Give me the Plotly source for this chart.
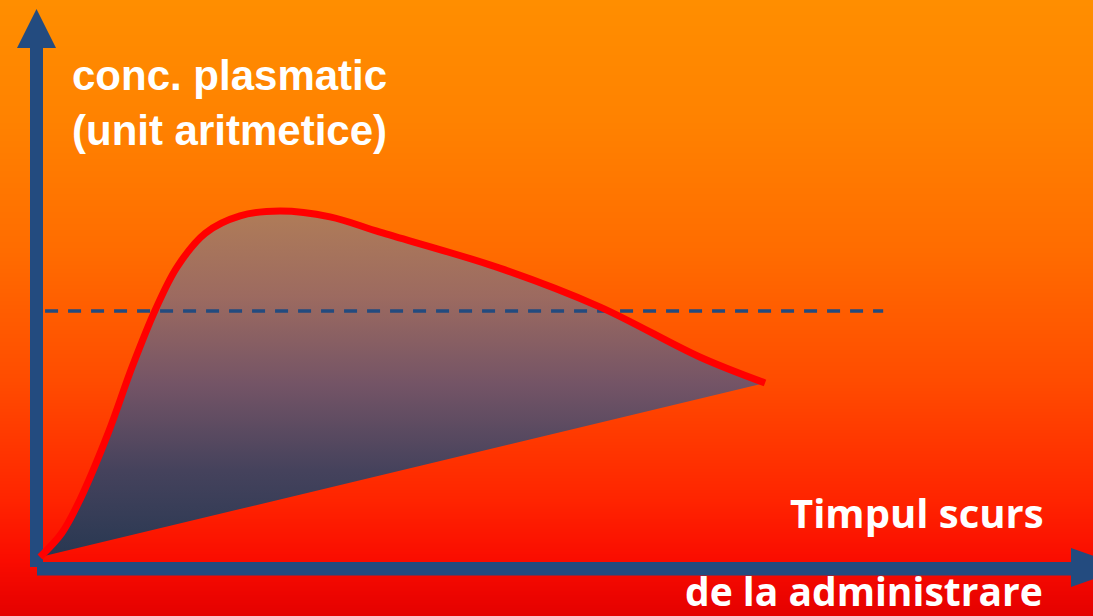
import base64
import struct
import zlib

import plotly.graph_objects as go

# --- data -------------------------------------------------------------
# time after administration (arbitrary units) and plasma concentration
time_vals = [0, 0.3, 0.55, 0.94, 1.27, 1.59, 1.89, 2.28, 2.76, 3.31, 4.0,
             4.69, 6.34, 7.72, 9.1, 10.0]
conc_vals = [0, 0.69, 1.65, 3.58, 5.49, 7.14, 8.38, 9.36, 9.86, 10.0, 9.83,
             9.39, 8.35, 7.23, 5.78, 5.03]
# minimum effective concentration (dashed reference line)
threshold_time = [0.07, 11.63]
threshold_conc = [7.11, 7.11]

y_title = "conc. plasmatic<br>(unit aritmetice)"
x_title_1 = "Timpul scurs"
x_title_2 = "de la administrare"

# --- page geometry ----------------------------------------------------
W, H = 1093, 616
X_RANGE = [-0.5517, 14.524]
Y_RANGE = [-1.705, 16.098]

AXIS_BLUE = "#234B7F"


def px(x):
    return x / W


def py(y):
    return 1 - y / H


# --- vertical orange -> red backdrop as a tiny PNG stretched over the page
bg_stops = [(0, (255, 142, 0)), (120, (255, 130, 0)), (250, (255, 108, 0)),
            (380, (255, 76, 0)), (500, (255, 36, 0)), (560, (250, 12, 0)),
            (616, (228, 0, 0))]


def lerp_color(y):
    for (y0, c0), (y1, c1) in zip(bg_stops, bg_stops[1:]):
        if y0 <= y <= y1:
            t = (y - y0) / (y1 - y0)
            return tuple(round(a + (b - a) * t) for a, b in zip(c0, c1))
    return bg_stops[-1][1]


def gradient_png(height, width=4):
    raw = b"".join(b"\x00" + bytes(lerp_color(y)) * width for y in range(height))

    def chunk(tag, data):
        return (struct.pack(">I", len(data)) + tag + data
                + struct.pack(">I", zlib.crc32(tag + data) & 0xFFFFFFFF))

    ihdr = struct.pack(">IIBBBBB", width, height, 8, 2, 0, 0, 0)
    png = (b"\x89PNG\r\n\x1a\n" + chunk(b"IHDR", ihdr)
           + chunk(b"IDAT", zlib.compress(raw)) + chunk(b"IEND", b""))
    return "data:image/png;base64," + base64.b64encode(png).decode()


CURVE_SHAPE = dict(shape="spline", smoothing=1.0)

fig = go.Figure()

# area under the curve, closed back to the origin
fig.add_trace(go.Scatter(
    x=time_vals, y=conc_vals, mode="lines",
    line=dict(width=0, **CURVE_SHAPE),
    fill="toself",
    fillgradient=dict(
        type="vertical",
        start=0, stop=10,
        colorscale=[[0, "#283852"], [0.25, "#45425C"], [0.5, "#745466"],
                    [0.75, "#9C6A60"], [1, "#B07C58"]],
    ),
    hoverinfo="skip",
))

# dashed threshold
fig.add_trace(go.Scatter(
    x=threshold_time, y=threshold_conc, mode="lines",
    line=dict(color=AXIS_BLUE, width=3.5, dash="13px,10px"),
    hoverinfo="skip",
))

# concentration curve
fig.add_trace(go.Scatter(
    x=time_vals, y=conc_vals, mode="lines",
    line=dict(color="#FF0000", width=7, **CURVE_SHAPE),
    hoverinfo="skip",
))

# axis arrows
shapes = [
    dict(type="rect", x0=px(30), x1=px(43), y0=py(567), y1=py(47)),
    dict(type="path",
         path=f"M{px(17)},{py(48)} L{px(56)},{py(48)} L{px(36.5)},{py(9)} Z"),
    dict(type="rect", x0=px(37), x1=px(1072), y0=py(575.5), y1=py(562)),
    dict(type="path",
         path=f"M{px(1071)},{py(548)} L{px(1071)},{py(587)} L{px(1126)},{py(567.5)} Z"),
]
for s in shapes:
    s.update(xref="paper", yref="paper", layer="below",
             fillcolor=AXIS_BLUE, line=dict(width=0))

annotations = [
    dict(text=y_title, x=px(71), y=py(51), xanchor="left", yanchor="top",
         align="left", showarrow=False,
         font=dict(family="Liberation Sans, Arial", size=42, color="white",
                   weight="bold")),
    dict(text=x_title_1, x=px(1045), y=py(541), xanchor="right", yanchor="bottom",
         showarrow=False,
         font=dict(family="Open Sans", size=40, color="white", weight="bold")),
    dict(text=x_title_2, x=px(1044), y=py(618), xanchor="right", yanchor="bottom",
         showarrow=False,
         font=dict(family="Open Sans", size=39, color="white", weight="bold")),
]
for a in annotations:
    a.update(xref="paper", yref="paper", borderpad=0)

fig.update_layout(
    width=W, height=H, autosize=False,
    margin=dict(l=0, r=0, t=0, b=0, pad=0),
    paper_bgcolor="rgba(0,0,0,0)", plot_bgcolor="rgba(0,0,0,0)",
    showlegend=False,
    xaxis=dict(range=X_RANGE, visible=False, fixedrange=True),
    yaxis=dict(range=Y_RANGE, visible=False, fixedrange=True),
    shapes=shapes,
    annotations=annotations,
    images=[dict(source=gradient_png(H), xref="paper", yref="paper",
                 x=0, y=1, sizex=1, sizey=1, xanchor="left", yanchor="top",
                 sizing="stretch", layer="below")],
)

fig.write_html("out.html", config=dict(displayModeBar=False))
